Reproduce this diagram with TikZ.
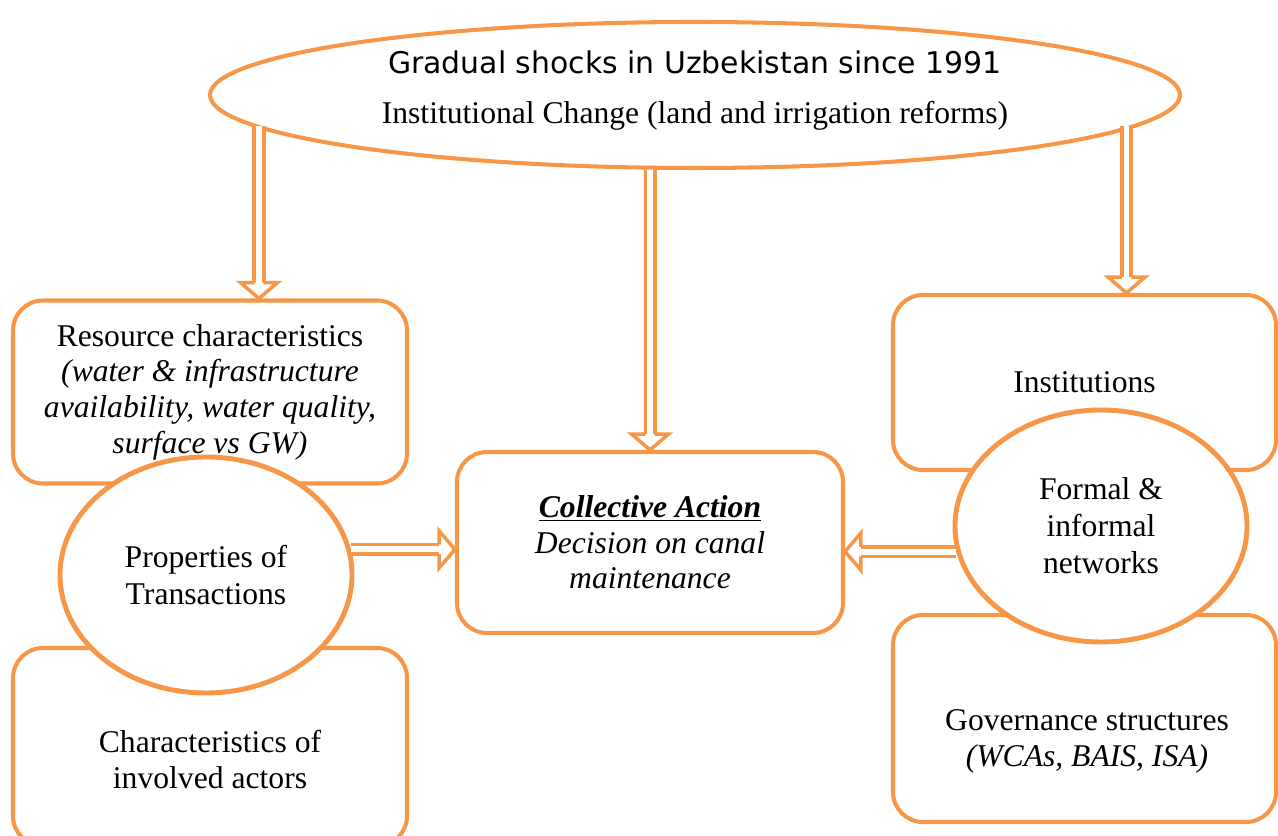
\documentclass[tikz,border=0pt]{standalone}
\usepackage{fontspec}
\setmainfont{Liberation Serif}
\newfontfamily\shocksfont{DejaVu Sans}
\usetikzlibrary{shapes.geometric}
\definecolor{orng}{HTML}{F79646}
\begin{document}
\begin{tikzpicture}[
  box/.style={draw=orng, line width=2.3pt, rounded corners=0.6cm, align=center, font=\fontsize{18}{20.3}\selectfont},
  oval/.style={draw=orng, line width=2.8pt, fill=white, ellipse, inner sep=0pt, align=center, font=\fontsize{18}{21}\selectfont},
  txt/.style={align=center, font=\fontsize{18}{20.5}\selectfont},
  shaft/.style={draw=orng, line width=2pt, double=white, double distance=3.4pt, shorten >=9pt},
  tip/.pic={\filldraw[draw=orng, fill=white, line width=2pt, line join=miter] (-9pt,2.7pt) -- (-9pt,10.5pt) -- (0,0) -- (-9pt,-10.5pt) -- (-9pt,-2.7pt);}]
\useasboundingbox (0,0) rectangle (25.56,16.72);
% boxes
\node[box, minimum width=7.88cm, minimum height=3.66cm] (res) at (4.2,8.88) {Resource characteristics\\ \textit{(water \& infrastructure}\\ \textit{availability, water quality,}\\ \textit{surface vs GW)}};
\node[box, minimum width=7.88cm, minimum height=3.96cm] (chr) at (4.2,1.78) {};
\node[txt] (chrtxt) at (4.2,1.52) {Characteristics of\\ involved actors};
\node[box, minimum width=7.72cm, minimum height=3.62cm] (ca) at (13.0,5.87) {\textbf{\textit{\underline{Collective Action}}}\\ \textit{Decision on canal}\\ \textit{maintenance}};
\node[box, minimum width=7.66cm, minimum height=3.5cm] (inst) at (21.69,9.07) {Institutions};
\node[box, minimum width=7.66cm, minimum height=4.14cm] (gov) at (21.69,2.35) {};
\node[txt] (govtxt) at (21.74,1.9) {Governance structures\\ \textit{(WCAs, BAIS, ISA)}};
% ovals
\node[oval, line width=2.3pt, minimum width=19.4cm, minimum height=2.92cm] (shock) at (13.9,14.82) {};
\node[txt] (shocktxt) at (13.9,14.9) {{\shocksfont\fontsize{17}{20.5}\selectfont Gradual shocks in Uzbekistan since 1991}\\[8pt] Institutional Change (land and irrigation reforms)};
\node[oval, minimum width=5.84cm, minimum height=4.72cm] (prop) at (4.12,5.22) {Properties of\\ Transactions};
\node[oval, minimum width=5.84cm, minimum height=4.64cm] (net) at (22.02,6.2) {Formal \&\\ informal\\ networks};
% arrows
\coordinate (resin) at ([xshift=0.98cm]res.north);
\coordinate (instin) at ([xshift=0.84cm]inst.north);
\coordinate (cain) at (ca.north);
\coordinate (caleft) at (prop.10 -| ca.west);
\coordinate (caright) at (net.190 -| ca.east);
\draw[shaft] (resin |- shock.184) -- (resin);
\draw[shaft] (shock.south -| cain) -- (cain);
\draw[shaft] (instin |- shock.356) -- (instin);
\draw[shaft] (prop.10) -- (caleft);
\draw[shaft] (net.190) -- (caright);
\pic[rotate=-90] at (resin) {tip};
\pic[rotate=-90] at (cain) {tip};
\pic[rotate=-90] at (instin) {tip};
\pic at (caleft) {tip};
\pic[rotate=180] at (caright) {tip};
\end{tikzpicture}
\end{document}
